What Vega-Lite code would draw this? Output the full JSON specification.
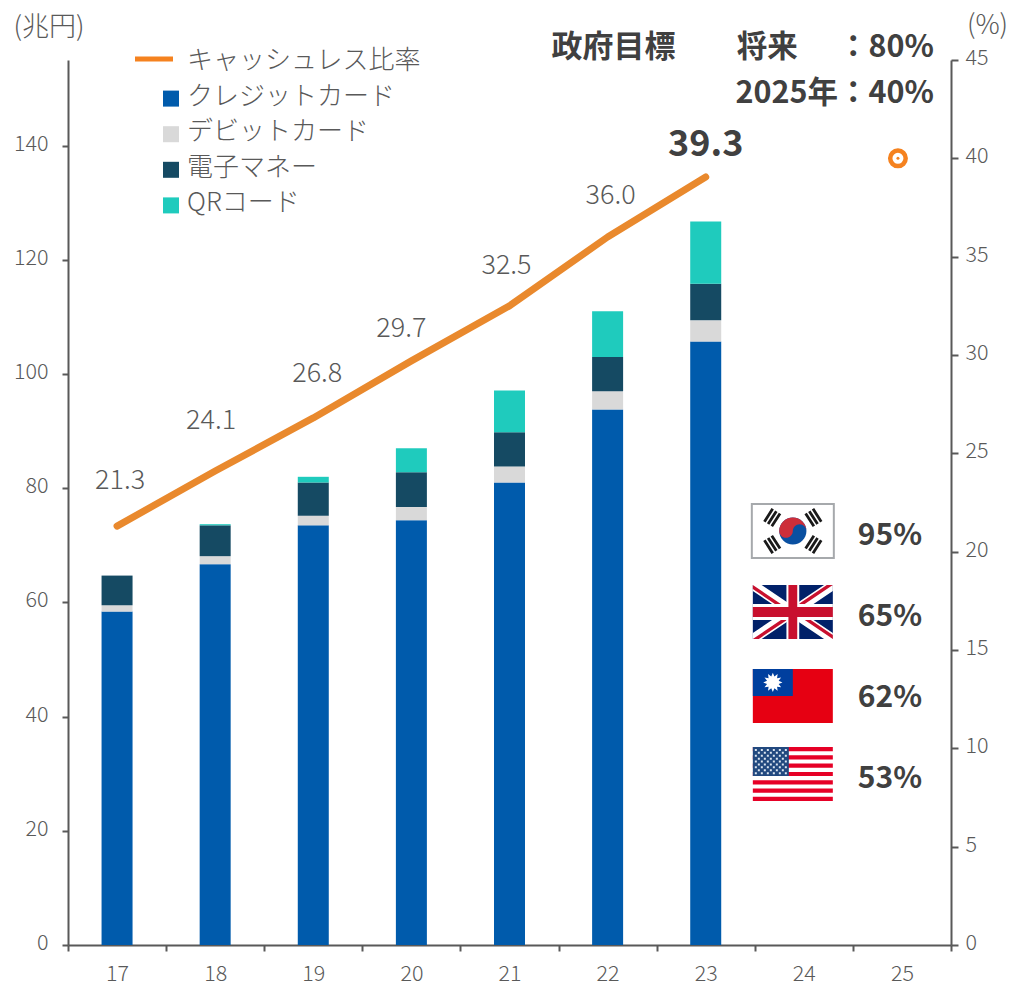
{
"$schema":"https://vega.github.io/schema/vega-lite/v6.json",
"width":883,"height":885,
"autosize":{"type":"none"},
"padding":{"left":68,"top":60,"right":59,"bottom":41},
"background":"white",
"config":{"view":{"stroke":null},"font":"Noto Sans CJK JP",
 "axis":{"grid":false,"domainColor":"#595959","domainWidth":2,"tickColor":"#595959","tickWidth":2,"labelColor":"#595959","labelFont":"Noto Sans CJK JP","labelFontWeight":300,"labelFontSize":21.5,"titleFont":"Noto Sans CJK JP","titleFontWeight":300,"titleColor":"#595959"}},
"datasets":{
"bars":[
{"year":"17","kind":"クレジットカード","k":1,"amount":58.4},{"year":"17","kind":"デビットカード","k":2,"amount":1.1},{"year":"17","kind":"電子マネー","k":3,"amount":5.2},{"year":"17","kind":"QRコード","k":4,"amount":0},
{"year":"18","kind":"クレジットカード","k":1,"amount":66.7},{"year":"18","kind":"デビットカード","k":2,"amount":1.4},{"year":"18","kind":"電子マネー","k":3,"amount":5.4},{"year":"18","kind":"QRコード","k":4,"amount":0.2},
{"year":"19","kind":"クレジットカード","k":1,"amount":73.5},{"year":"19","kind":"デビットカード","k":2,"amount":1.7},{"year":"19","kind":"電子マネー","k":3,"amount":5.8},{"year":"19","kind":"QRコード","k":4,"amount":1.0},
{"year":"20","kind":"クレジットカード","k":1,"amount":74.4},{"year":"20","kind":"デビットカード","k":2,"amount":2.3},{"year":"20","kind":"電子マネー","k":3,"amount":6.1},{"year":"20","kind":"QRコード","k":4,"amount":4.2},
{"year":"21","kind":"クレジットカード","k":1,"amount":81.0},{"year":"21","kind":"デビットカード","k":2,"amount":2.8},{"year":"21","kind":"電子マネー","k":3,"amount":6.0},{"year":"21","kind":"QRコード","k":4,"amount":7.3},
{"year":"22","kind":"クレジットカード","k":1,"amount":93.8},{"year":"22","kind":"デビットカード","k":2,"amount":3.2},{"year":"22","kind":"電子マネー","k":3,"amount":6.0},{"year":"22","kind":"QRコード","k":4,"amount":8.0},
{"year":"23","kind":"クレジットカード","k":1,"amount":105.7},{"year":"23","kind":"デビットカード","k":2,"amount":3.7},{"year":"23","kind":"電子マネー","k":3,"amount":6.4},{"year":"23","kind":"QRコード","k":4,"amount":10.9}
],
"ratio":[{"year":"17","ratio":21.3,"label":"21.3"},{"year":"18","ratio":24.1,"label":"24.1"},{"year":"19","ratio":26.8,"label":"26.8"},{"year":"20","ratio":29.7,"label":"29.7"},{"year":"21","ratio":32.5,"label":"32.5"},{"year":"22","ratio":36.0,"label":"36.0"},{"year":"23","ratio":39.05,"label":"39.3"}],
"rates":[{"country":"韓国","rate":"95%"},{"country":"英国","rate":"65%"},{"country":"台湾","rate":"62%"},{"country":"米国","rate":"53%"}],
"flagparts":[
{"country":"韓国","part":"kr_border"},{"country":"韓国","part":"kr_white"},{"country":"韓国","part":"kr_blue"},{"country":"韓国","part":"kr_red"},
{"country":"英国","part":"uk_navy"},{"country":"英国","part":"uk_wdiag"},{"country":"英国","part":"uk_rdiag"},{"country":"英国","part":"uk_wcross"},{"country":"英国","part":"uk_rcross"},
{"country":"台湾","part":"tw_red"},{"country":"台湾","part":"tw_blue"},{"country":"台湾","part":"tw_sun"},
{"country":"米国","part":"us_white"},{"country":"米国","part":"us_red"},{"country":"米国","part":"us_blue"},{"country":"米国","part":"us_stars"}
]
},
"resolve":{"scale":{"y":"independent"},"axis":{"y":"independent"}},
"encoding":{"x":{"field":"year","type":"nominal"}},
"layer":[
{"encoding":{"x":{"field":"year","type":"nominal","sort":null,"scale":{"type":"band","domain":["17","18","19","20","21","22","23","24","25"],"paddingInner":0,"paddingOuter":0},"axis":{"title":null,"orient":"bottom","labelAngle":0,"tickBand":"extent","tickSize":6,"labelPadding":12}}},
 "layer":[
 {"data":{"name":"bars"},"mark":{"type":"bar","size":31},
  "encoding":{
   "y":{"field":"amount","type":"quantitative","stack":"zero","scale":{"domain":[0,155],"nice":false},
     "axis":{"orient":"left","values":[0,20,40,60,80,100,120,140],"tickSize":6,"labelPadding":14,"labelOffset":-1.5,"title":"(兆円)","titleAngle":0,"titleFontSize":27,"titleX":-19.5,"titleY":-33,"titleAlign":"center","titleBaseline":"middle"}},
   "order":{"field":"k","type":"quantitative"},
   "color":{"field":"kind","type":"nominal","scale":{"domain":["キャッシュレス比率","クレジットカード","デビットカード","電子マネー","QRコード"],"range":["#F5821F","#005BAC","#D9D9D9","#154A63","#1FCBBD"]},
     "legend":{"title":null,"orient":"none","legendX":88,"legendY":-14,"symbolSize":900,"labelFont":"Noto Sans CJK JP","labelFontSize":26,"labelFontWeight":300,"labelColor":"#595959","labelOffset":1,"labelLimit":400,"rowPadding":7.6,"symbolStrokeWidth":0,
       "encode":{"symbols":{"update":{"shape":{"signal":"datum.value === 'キャッシュレス比率' ? 'M-2.4,-0.3H0.133V0.03H-2.4Z' : 'M-0.533,-0.4H0.533V0.667H-0.533Z'"}}}}}}
  }},
 {"data":{"values":[{"text":"政府目標"}]},"mark":{"type":"text","font":"Noto Sans CJK JP","fontWeight":"bold","fontSize":31,"color":"#404040","align":"left","baseline":"middle","dx":-56,"dy":1},
  "encoding":{"x":{"datum":"22"},"y":{"datum":157.3},"text":{"field":"text"}}},
 {"data":{"values":[{"text":"将来"}]},"mark":{"type":"text","font":"Noto Sans CJK JP","fontWeight":"bold","fontSize":30.5,"color":"#404040","align":"left","baseline":"middle","dx":31,"dy":1},
  "encoding":{"x":{"datum":"23"},"y":{"datum":157.3},"text":{"field":"text"}}},
 {"data":{"values":[{"text":"：80%"}]},"mark":{"type":"text","font":"Noto Sans CJK JP","fontWeight":"bold","fontSize":30.5,"color":"#404040","align":"right","baseline":"middle","dx":32,"dy":1},
  "encoding":{"x":{"datum":"25"},"y":{"datum":157.3},"text":{"field":"text"}}},
 {"data":{"values":[{"text":"2025年：40%"}]},"mark":{"type":"text","font":"Noto Sans CJK JP","fontWeight":"bold","fontSize":30.5,"color":"#404040","align":"right","baseline":"middle","dx":32,"dy":1},
  "encoding":{"x":{"datum":"25"},"y":{"datum":149.3},"text":{"field":"text"}}}
 ]},
{"encoding":{"y":{"field":"ratio","type":"quantitative","scale":{"domain":[0,45],"nice":false}}},
 "data":{"name":"ratio"},
 "layer":[
 {"mark":{"type":"line","color":"#E9892D","strokeWidth":7,"strokeCap":"round","strokeJoin":"round"},
  "encoding":{"y":{"field":"ratio","type":"quantitative","scale":{"domain":[0,45],"nice":false},
     "axis":{"orient":"right","values":[0,5,10,15,20,25,30,35,40,45],"tickSize":7,"labelPadding":7,"labelOffset":-1.5,"title":"(%)","titleAngle":0,"titleFontSize":27,"titleX":36,"titleY":-35,"titleAlign":"center","titleBaseline":"middle"}}}},
 {"transform":[{"filter":"datum.year==='17'"}],"mark":{"type":"text","fontSize":27,"fontWeight":300,"color":"#595959","dx":3,"dy":-45},"encoding":{"text":{"field":"label"}}},
 {"transform":[{"filter":"datum.year==='18'"}],"mark":{"type":"text","fontSize":27,"fontWeight":300,"color":"#595959","dx":-4,"dy":-50},"encoding":{"text":{"field":"label"}}},
 {"transform":[{"filter":"datum.year==='19'"}],"mark":{"type":"text","fontSize":27,"fontWeight":300,"color":"#595959","dx":4,"dy":-44},"encoding":{"text":{"field":"label"}}},
 {"transform":[{"filter":"datum.year==='20'"}],"mark":{"type":"text","fontSize":27,"fontWeight":300,"color":"#595959","dx":-10,"dy":-32},"encoding":{"text":{"field":"label"}}},
 {"transform":[{"filter":"datum.year==='21'"}],"mark":{"type":"text","fontSize":27,"fontWeight":300,"color":"#595959","dx":-3,"dy":-40},"encoding":{"text":{"field":"label"}}},
 {"transform":[{"filter":"datum.year==='22'"}],"mark":{"type":"text","fontSize":27,"fontWeight":300,"color":"#595959","dx":3,"dy":-41},"encoding":{"text":{"field":"label"}}},
 {"transform":[{"filter":"datum.year==='23'"}],"mark":{"type":"text","fontSize":36,"fontWeight":"bold","color":"#404040","dx":0,"dy":-32},"encoding":{"text":{"field":"label"}}},
 {"data":{"values":[{"year":"25","ratio":40}]},"mark":{"type":"point","shape":"circle","size":240,"filled":false,"stroke":"#F5821F","strokeWidth":4.5,"opacity":1,"xOffset":-4}},
 {"data":{"values":[{"year":"25","ratio":40}]},"mark":{"type":"point","shape":"circle","size":9,"filled":true,"fill":"#F5821F","opacity":1,"xOffset":-4}}
 ]},
{"encoding":{"y":{"field":"country","type":"nominal","sort":null,"scale":{"type":"point","domain":["韓国","英国","台湾","米国"],"range":[471,714],"padding":0},"axis":null}},
 "layer":[
 {"data":{"name":"flagparts"},"transform":[{"calculate":"'24'","as":"year"}],
  "mark":{"type":"point","filled":true,"size":6400,"opacity":1,"strokeWidth":0,"xOffset":-11},
  "encoding":{
   "fill":{"field":"part","type":"nominal","legend":null,"scale":{
     "domain":["kr_border","kr_white","kr_blue","kr_red","uk_navy","uk_wdiag","uk_rdiag","uk_wcross","uk_rcross","tw_red","tw_blue","tw_sun","us_white","us_red","us_blue","us_stars"],
     "range":["#A6A9AC","#FFFFFF","#0A50A1","#CD2E3A","#012169","#FFFFFF","#C8102E","#FFFFFF","#C8102E","#E60012","#003F9E","#FFFFFF","#FFFFFF","#E60026","#22497F","#DCE5F0"]}},
   "shape":{"field":"part","type":"nominal","legend":null,"scale":{
     "domain":["kr_border","kr_white","kr_blue","kr_red","uk_navy","uk_wdiag","uk_rdiag","uk_wcross","uk_rcross","tw_red","tw_blue","tw_sun","us_white","us_red","us_blue","us_stars"],
     "range":[
      "M-1.05,-0.7H1.05V0.7H-1.05Z",
      "M-1,-0.65H1V0.65H-1Z",
      "M-0.34,0A0.34,0.34 0 1 1 0.34,0A0.34,0.34 0 1 1 -0.34,0Z",
      "M-0.34,0A0.34,0.34 0 0 1 0.34,0A0.17,0.17 0 0 0 0,0A0.17,0.17 0 0 1 -0.34,0Z",
      "M-1,-0.675H1V0.675H-1Z",
      "M-1,-0.675H-0.78L1,0.525V0.675H0.78L-1,-0.525ZM1,-0.675H0.78L-1,0.525V0.675H-0.78L1,-0.525Z",
      "M-1,-0.675L-0.15,-0.1H-0.3L-1,-0.575ZM1,-0.675H0.85L0.1,-0.17H0.25ZM-1,0.675H-0.85L-0.1,0.17H-0.25ZM1,0.675L0.15,0.1H0.3L1,0.575Z",
      "M-1,-0.2H-0.16V-0.675H0.16V-0.2H1V0.2H0.16V0.675H-0.16V0.2H-1Z",
      "M-1,-0.125H-0.11V-0.675H0.11V-0.125H1V0.125H0.11V0.675H-0.11V0.125H-1Z",
      "M-1,-0.6H1V0.75H-1Z",
      "M-1,-0.6H0V0.075H-1Z",
      "M-.26,-.265L-.355,-.226L-.292,-.145L-.394,-.159L-.38,-.057L-.461,-.12L-.5,-.025L-.539,-.12L-.62,-.057L-.606,-.159L-.708,-.145L-.645,-.226L-.74,-.265L-.645,-.304L-.708,-.385L-.606,-.371L-.62,-.473L-.539,-.41L-.5,-.505L-.461,-.41L-.38,-.473L-.394,-.371L-.292,-.385L-.355,-.304Z",
      "M-1,-0.675H1V0.675H-1Z",
      "M-1,-.675H1V-.571H-1ZM-1,-.467H1V-.363H-1ZM-1,-.26H1V-.156H-1ZM-1,-.052H1V.052H-1ZM-1,.156H1V.26H-1ZM-1,.363H1V.467H-1ZM-1,.571H1V.675H-1Z",
      "M-1,-0.675H-0.1V0.052H-1Z",
      "M-.95,-.627h.05v.05h-.05zM-.8,-.627h.05v.05h-.05zM-.65,-.627h.05v.05h-.05zM-.5,-.627h.05v.05h-.05zM-.35,-.627h.05v.05h-.05zM-.2,-.627h.05v.05h-.05zM-.875,-.555h.05v.05h-.05zM-.725,-.555h.05v.05h-.05zM-.575,-.555h.05v.05h-.05zM-.425,-.555h.05v.05h-.05zM-.275,-.555h.05v.05h-.05zM-.95,-.482h.05v.05h-.05zM-.8,-.482h.05v.05h-.05zM-.65,-.482h.05v.05h-.05zM-.5,-.482h.05v.05h-.05zM-.35,-.482h.05v.05h-.05zM-.2,-.482h.05v.05h-.05zM-.875,-.409h.05v.05h-.05zM-.725,-.409h.05v.05h-.05zM-.575,-.409h.05v.05h-.05zM-.425,-.409h.05v.05h-.05zM-.275,-.409h.05v.05h-.05zM-.95,-.337h.05v.05h-.05zM-.8,-.337h.05v.05h-.05zM-.65,-.337h.05v.05h-.05zM-.5,-.337h.05v.05h-.05zM-.35,-.337h.05v.05h-.05zM-.2,-.337h.05v.05h-.05zM-.875,-.264h.05v.05h-.05zM-.725,-.264h.05v.05h-.05zM-.575,-.264h.05v.05h-.05zM-.425,-.264h.05v.05h-.05zM-.275,-.264h.05v.05h-.05zM-.95,-.191h.05v.05h-.05zM-.8,-.191h.05v.05h-.05zM-.65,-.191h.05v.05h-.05zM-.5,-.191h.05v.05h-.05zM-.35,-.191h.05v.05h-.05zM-.2,-.191h.05v.05h-.05zM-.875,-.119h.05v.05h-.05zM-.725,-.119h.05v.05h-.05zM-.575,-.119h.05v.05h-.05zM-.425,-.119h.05v.05h-.05zM-.275,-.119h.05v.05h-.05zM-.95,-.046h.05v.05h-.05zM-.8,-.046h.05v.05h-.05zM-.65,-.046h.05v.05h-.05zM-.5,-.046h.05v.05h-.05zM-.35,-.046h.05v.05h-.05zM-.2,-.046h.05v.05h-.05z"
     ]}}
  }},
 {"data":{"values":[{"country":"韓国","year":"24"}]},
  "mark":{"type":"point","filled":false,"size":6400,"opacity":1,"stroke":"#1A1A1A","strokeWidth":2.8,"xOffset":-11,
   "shape":"M-.71,-.234L-.504,-.554M-.618,-.175L-.412,-.495M-.526,-.116L-.32,-.436M.71,.234L.504,.554M.618,.175L.412,.495M.526,.116L.32,.436M.71,-.234L.504,-.554M.618,-.175L.412,-.495M.526,-.116L.32,-.436M-.71,.234L-.504,.554M-.618,.175L-.412,.495M-.526,.116L-.32,.436"}},
 {"data":{"name":"rates"},"transform":[{"calculate":"'25'","as":"year"}],
  "mark":{"type":"text","font":"Noto Sans CJK JP","fontWeight":"bold","fontSize":30,"color":"#404040","dx":-12,"dy":4.5,"baseline":"middle"},
  "encoding":{"text":{"field":"rate"}}}
 ]}
]
}
